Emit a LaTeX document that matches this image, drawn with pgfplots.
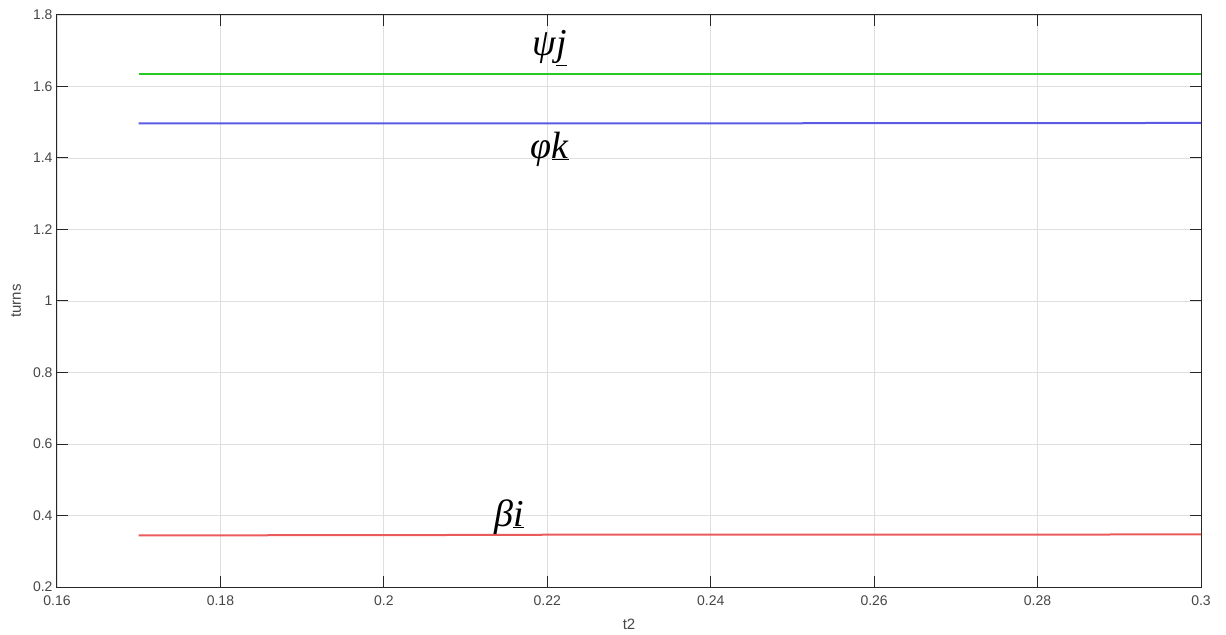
\documentclass[border=0pt]{standalone}
\usepackage{fontspec}
\setmainfont{Liberation Sans}
\newfontfamily\lserif{Liberation Serif}
\usepackage{pgfplots}
\pgfplotsset{compat=1.18}
\definecolor{axgray}{RGB}{38,38,38}
\definecolor{tickgray}{RGB}{70,70,70}
\definecolor{gridgray}{RGB}{223,223,223}
\definecolor{mygreen}{RGB}{40,200,40}
\definecolor{myblue}{RGB}{90,90,228}
\definecolor{myred}{RGB}{235,90,90}
\begin{document}
\begin{tikzpicture}
\begin{axis}[
  scale only axis,
  width=1144pt, height=572pt,
  xmin=0.16, xmax=0.3, ymin=0.2, ymax=1.8,
  xtick={0.16,0.18,0.2,0.22,0.24,0.26,0.28,0.3},
  ytick={0.2,0.4,0.6,0.8,1,1.2,1.4,1.6,1.8},
  xticklabels={0.16,0.18,0.2,0.22,0.24,0.26,0.28,0.3},
  yticklabels={0.2,0.4,0.6,0.8,1,1.2,1.4,1.6,1.8},
  tick align=inside, tick pos=both,
  major tick length=11pt,
  grid=major,
  major grid style={gridgray, line width=0.8pt},
  axis line style={axgray, line width=1pt},
  every tick/.style={axgray, line width=1pt},
  tick label style={font=\fontsize{14}{16}\selectfont, text=tickgray},
  /pgf/number format/assume math mode=true,
  xticklabel style={yshift=-5pt},
  yticklabel style={xshift=-1pt},
  xlabel={t2}, ylabel={turns},
  label style={font=\fontsize{15}{17}\selectfont, text=tickgray},
  xlabel style={yshift=-7pt},
  ylabel style={yshift=5pt},
]
\coordinate (ll) at (rel axis cs:0,0);
\coordinate (ur) at (rel axis cs:1,1);
\addplot[color=mygreen, line width=2pt] coordinates {(0.17,1.636) (0.3,1.636)};
\addplot[color=myblue, line width=2pt] coordinates {(0.17,1.497) (0.24,1.497) (0.3,1.498)};
\addplot[color=myred, line width=2pt] coordinates {(0.17,0.3445) (0.2,0.345) (0.22,0.3462) (0.26,0.3465) (0.3,0.347)};
\node[font=\fontsize{38}{42}\selectfont\lserif\itshape] at (axis cs:0.2203,1.708) {ψ\underline{j}};
\node[font=\fontsize{38}{42}\selectfont\lserif\itshape] at (axis cs:0.2203,1.425) {φ\underline{k}};
\node[font=\fontsize{38}{42}\selectfont\lserif\itshape] at (axis cs:0.2153,0.396) {β\underline{i}};
\end{axis}
\pgfresetboundingbox
\path ([shift={(-57pt,-47pt)}]ll) rectangle ([shift={(25pt,15pt)}]ur);
\end{tikzpicture}
\end{document}
